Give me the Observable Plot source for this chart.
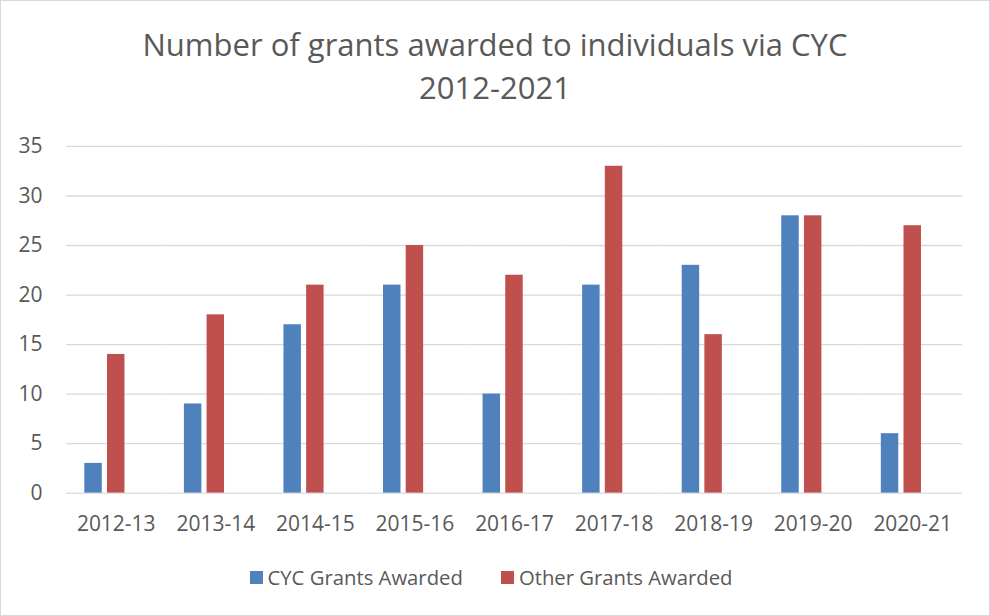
<!DOCTYPE html>
<html>
<head>
<meta charset="utf-8">
<script src="https://cdn.jsdelivr.net/npm/d3@7"></script>
<script src="https://cdn.jsdelivr.net/npm/@observablehq/plot@0.6"></script>
<style>
  html, body { margin: 0; padding: 0; background: #fff; }
  #chart { position: relative; width: 990px; height: 616px; box-sizing: border-box; border: 1px solid #d9d9d9; font-family: "Open Sans", sans-serif; color: #595959; overflow: hidden; }
  #title { position: absolute; left: 0; top: 22px; width: 100%; text-align: center; font-size: 31px; line-height: 43px; color: #595959; }
  #plot { position: absolute; left: -1px; top: 119px; }
  #legend { position: absolute; left: -4px; top: 562px; width: 100%; display: flex; justify-content: center; gap: 38px; font-size: 20.3px; color: #595959; }
  .item { display: flex; align-items: center; gap: 5px; }
  .sw { width: 13px; height: 13px; display: inline-block; }
</style>
</head>
<body>
<div id="chart">
  <div id="title">Number of grants awarded to individuals via CYC<br>2012-2021</div>
  <div id="plot"></div>
  <div id="legend"></div>
</div>
<script>
const categories = ["2012-13","2013-14","2014-15","2015-16","2016-17","2017-18","2018-19","2019-20","2020-21"];
const cycValues = [3, 9, 17, 21, 10, 21, 23, 28, 6];
const otherValues = [14, 18, 21, 25, 22, 33, 16, 28, 27];
const seriesNames = ["CYC Grants Awarded", "Other Grants Awarded"];
const seriesColors = ["#4F81BD", "#C0504D"];
const yTicks = [0, 5, 10, 15, 20, 25, 30, 35];

const data = categories.flatMap((c, i) => [
  {cat: c, series: seriesNames[0], value: cycValues[i]},
  {cat: c, series: seriesNames[1], value: otherValues[i]}
]);

const chart = Plot.plot({
  width: 990,
  height: 418,
  marginLeft: 66,
  marginRight: 27,
  marginTop: 26,
  marginBottom: 45,
  style: {fontFamily: "'Open Sans', sans-serif", fontSize: "21px", color: "#595959", background: "transparent"},
  fx: {domain: categories, paddingInner: 0, paddingOuter: 0, round: false, label: null, tickSize: 0, tickPadding: 23},
  x: {domain: [...seriesNames, "(blank)"], paddingInner: 0.23, paddingOuter: 0.81, round: false, axis: null},
  y: {domain: [0, 35], ticks: yTicks, label: null, tickSize: 0, tickPadding: 24},
  color: {domain: seriesNames, range: seriesColors},
  marks: [
    Plot.ruleY(yTicks, {y: d => d, stroke: "#d9d9d9", strokeWidth: 1.3}),
    Plot.barY(data, {fx: "cat", x: "series", y: "value", fill: "series"})
  ]
});
document.getElementById("plot").appendChild(chart);

const legend = document.getElementById("legend");
seriesNames.forEach((name, i) => {
  const item = document.createElement("div");
  item.className = "item";
  const sw = document.createElement("span");
  sw.className = "sw";
  sw.style.background = seriesColors[i];
  const label = document.createElement("span");
  label.textContent = name;
  item.appendChild(sw);
  item.appendChild(label);
  legend.appendChild(item);
});
</script>
</body>
</html>
